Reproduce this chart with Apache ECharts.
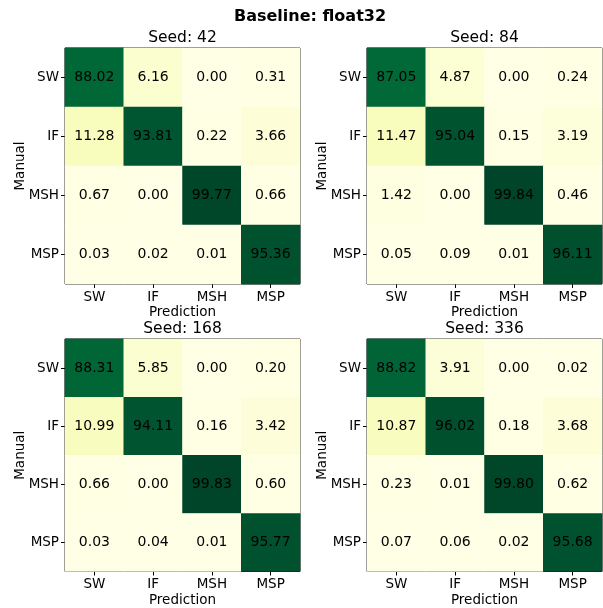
<!DOCTYPE html>
<html>
<head>
<meta charset="utf-8">
<script src="https://cdn.jsdelivr.net/npm/echarts@6/dist/echarts.min.js"></script>
<style>html,body{margin:0;padding:0;background:#fff}#c{width:603px;height:608px}</style>
</head>
<body>
<div id="c"></div>
<script>
var categories = ['SW', 'IF', 'MSH', 'MSP'];
var seeds = ['42', '84', '168', '336'];
// rows = Manual, columns = Prediction
var seed42 = [
  [88.02, 6.16, 0.00, 0.31],
  [11.28, 93.81, 0.22, 3.66],
  [0.67, 0.00, 99.77, 0.66],
  [0.03, 0.02, 0.01, 95.36]
];
var seed84 = [
  [87.05, 4.87, 0.00, 0.24],
  [11.47, 95.04, 0.15, 3.19],
  [1.42, 0.00, 99.84, 0.46],
  [0.05, 0.09, 0.01, 96.11]
];
var seed168 = [
  [88.31, 5.85, 0.00, 0.20],
  [10.99, 94.11, 0.16, 3.42],
  [0.66, 0.00, 99.83, 0.60],
  [0.03, 0.04, 0.01, 95.77]
];
var seed336 = [
  [88.82, 3.91, 0.00, 0.02],
  [10.87, 96.02, 0.18, 3.68],
  [0.23, 0.01, 99.80, 0.62],
  [0.07, 0.06, 0.02, 95.68]
];
var matrices = [seed42, seed84, seed168, seed336];

var FONT = 'DejaVu Sans';
var FS = 13.5;
var lefts = [65, 367, 65, 367];
var tops = [48, 48, 339, 339];
var W = 235, H = 236;

var grids = [], xAxes = [], yAxes = [], series = [], graphics = [];
for (var k = 0; k < 4; k++) {
  grids.push({left: lefts[k], top: tops[k], width: W, height: H, show: true,
    borderColor: '#000', borderWidth: 1, backgroundColor: 'transparent', containLabel: false});
  xAxes.push({type: 'category', gridIndex: k, data: categories, position: 'bottom',
    name: 'Prediction', nameLocation: 'middle', nameGap: 21.5, nameMoveOverlap: false,
    nameTextStyle: {fontFamily: FONT, fontSize: FS, color: '#000'},
    axisLine: {show: false}, splitLine: {show: false},
    axisTick: {show: true, alignWithLabel: true, length: 4, lineStyle: {color: '#000'}},
    axisLabel: {fontFamily: FONT, fontSize: FS, color: '#000', margin: 6}});
  yAxes.push({type: 'category', gridIndex: k, data: categories, inverse: true,
    name: 'Manual', nameLocation: 'middle', nameGap: 38, nameRotate: 90, nameMoveOverlap: false,
    nameTextStyle: {fontFamily: FONT, fontSize: FS, color: '#000'},
    axisLine: {show: false}, splitLine: {show: false},
    axisTick: {show: true, alignWithLabel: true, length: 4, lineStyle: {color: '#000'}},
    axisLabel: {fontFamily: FONT, fontSize: FS, color: '#000', margin: 6}});
  var data = [];
  var m = matrices[k];
  for (var r = 0; r < 4; r++) for (var c = 0; c < 4; c++) data.push([c, r, m[r][c]]);
  series.push({type: 'heatmap', xAxisIndex: k, yAxisIndex: k, data: data,
    label: {show: true, fontFamily: FONT, fontSize: 14, color: '#000',
      formatter: function (p) { return p.value[2].toFixed(2); }},
    itemStyle: {borderWidth: 0},
    emphasis: {disabled: true}});
  graphics.push({type: 'text', x: lefts[k] + W / 2, y: tops[k] - 10,
    style: {text: 'Seed: ' + seeds[k], font: '15.5px "DejaVu Sans"', fill: '#000',
      textAlign: 'center', textVerticalAlign: 'middle'}});
}
graphics.push({type: 'text', x: 310, y: 17,
  style: {text: 'Baseline: float32', font: 'bold 16px "DejaVu Sans"', fill: '#000',
    textAlign: 'center', textVerticalAlign: 'middle'}});

var chart = echarts.init(document.getElementById('c'));
chart.setOption({
  animation: false,
  backgroundColor: '#fff',
  grid: grids, xAxis: xAxes, yAxis: yAxes, series: series,
  visualMap: {show: false, type: 'continuous', min: 0, max: 100, dimension: 2,
    inRange: {color: ['#ffffe5', '#f7fcb9', '#d9f0a3', '#addd8e', '#78c679', '#41ab5d', '#238443', '#006837', '#004529']}},
  graphic: graphics
});
</script>
</body>
</html>
